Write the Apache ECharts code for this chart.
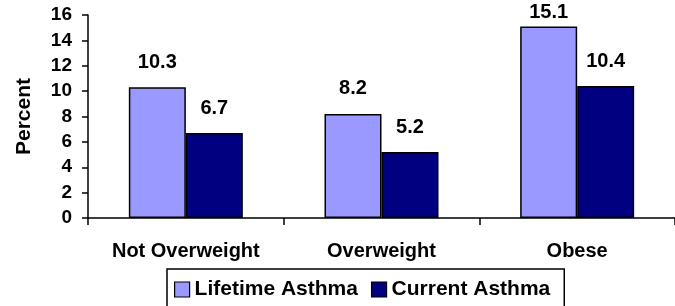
<!DOCTYPE html>
<html>
<head>
<meta charset="utf-8">
<script src="https://cdn.jsdelivr.net/npm/echarts@6/dist/echarts.min.js"></script>
<style>
  html, body { margin: 0; padding: 0; background: #fff; }
  #main { width: 675px; height: 306px; }
</style>
</head>
<body>
<div id="main"></div>
<script>
const categories = ['Not Overweight', 'Overweight', 'Obese'];
const lifetimeAsthma = [10.3, 8.2, 15.1];
const currentAsthma = [6.7, 5.2, 10.4];

const chart = echarts.init(document.getElementById('main'));
const font = 'Liberation Sans, Arial, sans-serif';

const barLabel = {
  show: true,
  position: 'top',
  distance: 15,
  color: '#000',
  fontFamily: font,
  fontWeight: 'bold',
  fontSize: 20
};

// labels near the top of the plot are pulled down so they stay inside the picture
function withLabels(values) {
  return values.map(v => v > 14 ? { value: v, label: { distance: 4 } } : v);
}

chart.setOption({
  animation: false,
  textStyle: { fontFamily: font },
  grid: { left: 88, right: -6, top: 15, bottom: 88 },
  legend: {
    left: 167,
    top: 269,
    orient: 'horizontal',
    icon: 'rect',
    itemWidth: 15,
    itemHeight: 15,
    itemGap: 13,
    padding: [10, 14, 20, 7],
    borderColor: '#000',
    borderWidth: 1.5,
    itemStyle: { borderColor: '#000', borderWidth: 1.2 },
    textStyle: { color: '#000', fontSize: 21, fontWeight: 'bold', fontFamily: font },
    data: ['Lifetime Asthma', 'Current Asthma']
  },
  xAxis: {
    type: 'category',
    data: categories,
    axisLine: { lineStyle: { color: '#000', width: 1.5 } },
    axisTick: { show: true, length: 7, lineStyle: { color: '#000', width: 1.5 } },
    axisLabel: { color: '#000', fontSize: 20, fontWeight: 'bold', margin: 23, interval: 0 }
  },
  yAxis: {
    type: 'value',
    min: 0,
    max: 16,
    interval: 2,
    name: 'Percent',
    nameLocation: 'middle',
    nameRotate: 90,
    nameGap: 53,
    nameTextStyle: { color: '#000', fontSize: 21, fontWeight: 'bold' },
    splitLine: { show: false },
    axisLine: { show: true, lineStyle: { color: '#000', width: 1.5 } },
    axisTick: { show: true, length: 6, lineStyle: { color: '#000', width: 1.5 } },
    axisLabel: { color: '#000', fontSize: 19, fontWeight: 'bold', margin: 16 }
  },
  series: [
    {
      name: 'Lifetime Asthma',
      type: 'bar',
      data: withLabels(lifetimeAsthma),
      barWidth: 57,
      barGap: '0%',
      itemStyle: { color: '#9999FF', borderColor: '#000', borderWidth: 1.5 },
      label: barLabel
    },
    {
      name: 'Current Asthma',
      type: 'bar',
      data: withLabels(currentAsthma),
      barWidth: 57,
      barGap: '0%',
      itemStyle: { color: '#000080', borderColor: '#000', borderWidth: 1.5 },
      label: barLabel
    }
  ]
});
</script>
</body>
</html>
